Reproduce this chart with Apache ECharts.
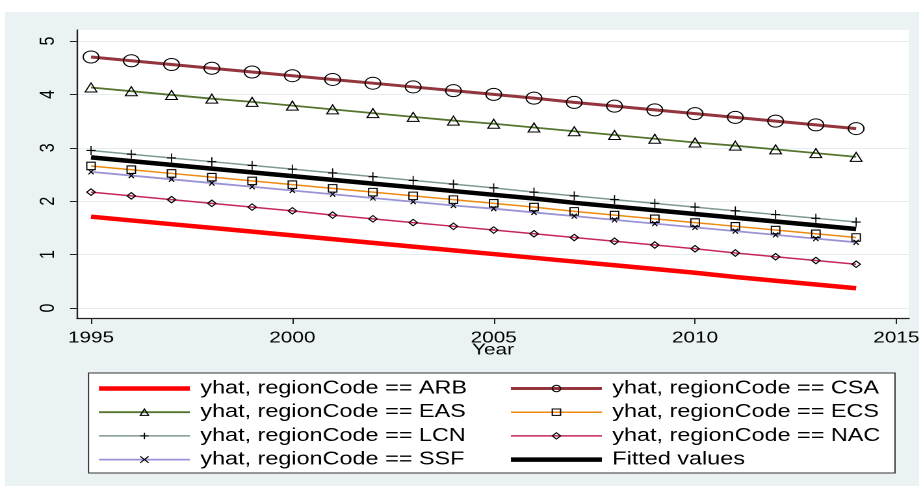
<!DOCTYPE html>
<html><head><meta charset="utf-8">
<script src="https://cdn.jsdelivr.net/npm/echarts@6/dist/echarts.min.js"></script>
<style>
html,body{margin:0;padding:0;background:#fff;overflow:hidden;}
#wrap{width:919px;height:486px;overflow:hidden;position:relative;}
#chart{width:707px;height:486px;transform:scaleX(1.3);transform-origin:0 0;}
</style></head><body>
<div id="wrap"><div id="chart"></div></div>
<script>
const years = [1995,1996,1997,1998,1999,2000,2001,2002,2003,2004,2005,2006,2007,2008,2009,2010,2011,2012,2013,2014];
const xTicks = [1995,2000,2005,2010,2015];
const yTicks = [0,1,2,3,4,5];
const arb = [1.71,1.64,1.57,1.50,1.43,1.36,1.29,1.22,1.15,1.08,1.01,0.94,0.87,0.80,0.73,0.66,0.58,0.51,0.44,0.37];
const csa = [4.70,4.63,4.56,4.49,4.42,4.35,4.28,4.21,4.14,4.07,4.00,3.93,3.85,3.78,3.71,3.64,3.57,3.50,3.43,3.36];
const eas = [4.13,4.06,3.99,3.92,3.86,3.79,3.72,3.65,3.58,3.51,3.45,3.38,3.31,3.24,3.17,3.10,3.04,2.97,2.90,2.83];
const ecs = [2.66,2.59,2.52,2.45,2.38,2.31,2.24,2.17,2.10,2.03,1.96,1.89,1.81,1.74,1.67,1.60,1.53,1.46,1.39,1.32];
const lcn = [2.95,2.88,2.81,2.74,2.67,2.60,2.53,2.46,2.39,2.32,2.25,2.17,2.10,2.03,1.96,1.89,1.82,1.75,1.68,1.61];
const nac = [2.17,2.10,2.03,1.96,1.89,1.82,1.74,1.67,1.60,1.53,1.46,1.39,1.32,1.25,1.18,1.11,1.03,0.96,0.89,0.82];
const ssf = [2.55,2.48,2.41,2.34,2.27,2.20,2.13,2.06,1.99,1.92,1.86,1.79,1.72,1.65,1.58,1.51,1.44,1.37,1.30,1.23];
const fitted = [2.82,2.75,2.68,2.61,2.54,2.47,2.40,2.33,2.26,2.19,2.12,2.05,1.97,1.90,1.83,1.76,1.69,1.62,1.55,1.48];
const names = {
  arb:'yhat, regionCode == ARB', csa:'yhat, regionCode == CSA', eas:'yhat, regionCode == EAS',
  ecs:'yhat, regionCode == ECS', lcn:'yhat, regionCode == LCN', nac:'yhat, regionCode == NAC',
  ssf:'yhat, regionCode == SSF', fit:'Fitted values'
};

const K = 1.3, W = 707;
const sx = v => v / K;
const FONT = '"Liberation Sans", Arial, sans-serif';
const pair = arr => years.map((y, i) => [y, arr[i]]);
const hollow = {color:'rgba(0,0,0,0)', borderColor:'#000', borderWidth:1};
const PLUS = 'path://M0,5L10,5M5,0L5,10';
const CROSS = 'path://M0,0L10,10M10,0L0,10';

function mk(name, arr, color, width, symbol, size) {
  return {
    type:'line', name, data: pair(arr), symbol: symbol || 'none', symbolSize: size || 0,
    showSymbol: !!symbol, lineStyle:{color, width}, itemStyle: symbol ? hollow : {color:'rgba(0,0,0,0)', borderWidth:0},
    emphasis:{disabled:true}, animation:false
  };
}

const chart = echarts.init(document.getElementById('chart'), null, {renderer:'canvas', devicePixelRatio:2});
const legendCommon = {
  orient:'vertical', top:379.5, itemGap:5.7, itemWidth:70, itemHeight:8, padding:0,
  textStyle:{fontFamily:FONT, fontSize:18, color:'#000', padding:[0,0,0,3]},
  lineStyle:{width:'inherit'}, itemStyle:{borderWidth:1}, selectedMode:false
};
chart.setOption({
  animation:false,
  graphic:[
    {type:'rect', z:-10, silent:true, shape:{x:sx(5), y:12, width:W, height:486}, style:{fill:'#EAF2F3'}},
    {type:'rect', z:1, silent:true, shape:{x:sx(88.5), y:373, width:sx(895)-sx(88.5), height:100}, style:{fill:'#fff', stroke:'#333', lineWidth:1}}
  ],
  grid:{left:sx(77), right:W - sx(909), top:30, bottom:168, show:true, backgroundColor:'#fff', borderWidth:0, containLabel:false, outerBoundsMode:'none'},
  xAxis:{
    type:'value', min:1994.652, max:2015.313,
    name:'Year', nameLocation:'middle', nameGap:24, nameMoveOverlap:false,
    nameTextStyle:{fontFamily:FONT, fontSize:16, color:'#000'},
    axisLine:{show:true, onZero:false, lineStyle:{color:'#222', width:1.2}},
    axisTick:{show:true, length:6, customValues:xTicks, lineStyle:{color:'#222'}},
    axisLabel:{customValues:xTicks, margin:12, fontFamily:FONT, fontSize:16, color:'#000', formatter:v=>String(v)},
    splitLine:{show:false}
  },
  yAxis:{
    type:'value', min:-0.187, max:5.206,
    axisLine:{show:true, onZero:false, lineStyle:{color:'#222', width:1.2}},
    axisTick:{show:true, length:5.4, customValues:yTicks, lineStyle:{color:'#222'}},
    axisLabel:{customValues:yTicks, rotate:90, margin:14, fontFamily:FONT, fontSize:16, color:'#000', formatter:v=>String(v)},
    splitLine:{show:true, lineStyle:{color:'#E4EEF0', width:1}}
  },
  legend:[
    Object.assign({left:sx(96), data:[names.arb, names.eas, names.lcn, names.ssf]}, legendCommon),
    Object.assign({left:sx(508), data:[names.csa, names.ecs, names.nac, names.fit]}, legendCommon)
  ],
  series:[
    mk(names.arb, arb, '#FF0000', 4.5),
    mk(names.csa, csa, '#93353D', 3, 'circle', 12),
    mk(names.eas, eas, '#55752F', 1.8, 'triangle', [9,9]),
    mk(names.ecs, ecs, '#EE8A10', 1.5, 'rect', [6.5,7.5]),
    mk(names.lcn, lcn, '#7E9A90', 1.5, PLUS, [7,9]),
    mk(names.nac, nac, '#C8255E', 1.5, 'diamond', [6.5,6.5]),
    mk(names.ssf, ssf, '#9A94D6', 1.8, CROSS, [4,5]),
    mk(names.fit, fitted, '#000000', 4.5)
  ]
});
</script>
</body></html>
